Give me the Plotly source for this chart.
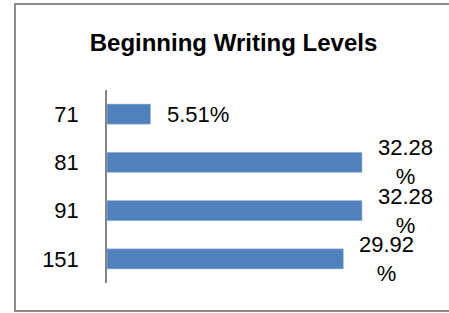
import plotly.graph_objects as go

categories = ["71", "81", "91", "151"]
values = [5.51, 32.28, 32.28, 29.92]
title_text = "Beginning Writing Levels"

# Excel wraps labels that don't fit to the right of long bars
labels = [f"{v:.2f}%" if v < 20 else f"{v:.2f}<br>%" for v in values]

FONT = "Liberation Sans, Arial, sans-serif"
W, H = 449, 313
ML, MR, MT, MB = 107, 26, 90, 30
PW = W - ML - MR
PH = H - MT - MB

fig = go.Figure(go.Bar(
    x=values,
    y=categories,
    orientation="h",
    marker=dict(color="#4F81BD", line=dict(color="#A9C0DE", width=0.6)),
    hoverinfo="skip",
))

# data labels, placed through the axes at each bar's end (category index on y)
for i, (v, t) in enumerate(zip(values, labels)):
    fig.add_annotation(
        x=v, y=i, xref="x", yref="y", text=t, showarrow=False,
        xanchor="left", yanchor="middle", xshift=14, align="center",
        font=dict(family=FONT, size=22, color="#000000"),
    )

# outer chart border (gray frame; its right side runs off the canvas)
bx0 = (15 - ML) / PW
bx1 = (520 - ML) / PW
by0 = (H - 311 - MB) / PH
by1 = (H - 4 - MB) / PH
fig.add_shape(
    type="path", xref="paper", yref="paper",
    path=f"M {bx1} {by1} L {bx0} {by1} L {bx0} {by0} L {bx1} {by0}",
    line=dict(color="#8C8C8C", width=2), layer="below",
)

fig.update_layout(
    width=W, height=H,
    margin=dict(l=ML, r=MR, t=MT, b=MB),
    paper_bgcolor="white", plot_bgcolor="white",
    showlegend=False,
    bargap=0.585,
    title=dict(
        text=f"<b>{title_text}</b>",
        x=233.5 / W, xanchor="center",
        y=1 - 43 / H, yanchor="middle",
        font=dict(family=FONT, size=24, color="#000000"),
    ),
    xaxis=dict(range=[0, 40], visible=False, fixedrange=True),
    yaxis=dict(
        type="category",
        categoryorder="array", categoryarray=categories,
        range=[len(categories) - 0.5, -0.5],
        showline=True, linecolor="#868686", linewidth=1.5,
        showgrid=False, zeroline=False, ticks="",
        ticklabelstandoff=22,
        tickfont=dict(family=FONT, size=22, color="#000000"),
        fixedrange=True,
    ),
)

fig.write_html(
    "out.html",
    config={"displayModeBar": False},
    post_script="document.body.style.margin='0';document.body.style.overflow='hidden';",
)
